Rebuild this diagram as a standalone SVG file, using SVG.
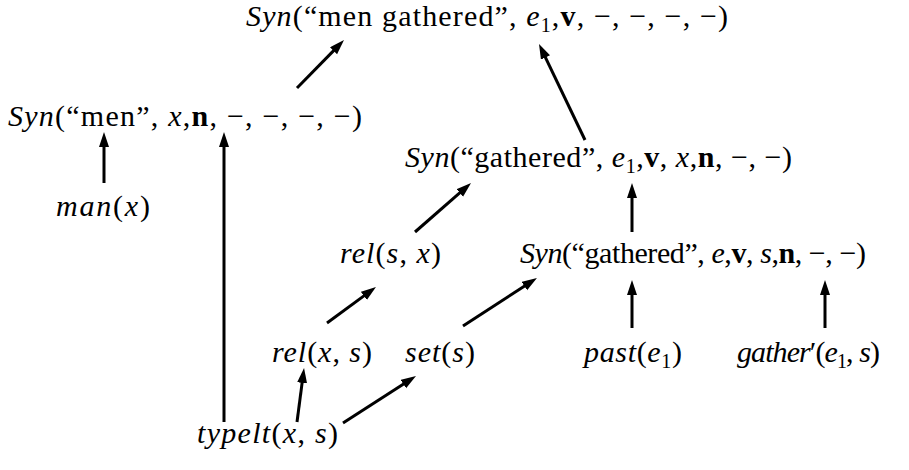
<svg xmlns="http://www.w3.org/2000/svg" width="909" height="470" viewBox="0 0 909 470">
<style>
text { font-family: 'Liberation Serif', 'DejaVu Serif', 'Times New Roman', serif; font-size: 30px; fill: #000; }
.i { font-style: italic; }
.b { font-weight: bold; }
.s { font-size: 20px; }
#connectors line { stroke: #000; stroke-width: 3; marker-end: url(#ah); }
</style>
<defs>
<marker id="ah" markerUnits="userSpaceOnUse" markerWidth="16" markerHeight="12" refX="3" refY="5" orient="auto">
<path d="M0,0 L15,5 L0,10 z" fill="#000"/>
</marker>
</defs>
<rect width="909" height="470" fill="#fff"/>

<g id="n-top"><text x="246" y="26" textLength="482" lengthAdjust="spacing"><tspan class="i">Syn</tspan>(“men gathered”, <tspan class="i">e</tspan><tspan class="s" dy="6">1</tspan><tspan dy="-6">,</tspan><tspan class="b">v</tspan>, −, −, −, −)</text></g>
<g id="n-men"><text x="8" y="126" textLength="354" lengthAdjust="spacing"><tspan class="i">Syn</tspan>(“men”, <tspan class="i">x</tspan>,<tspan class="b">n</tspan>, −, −, −, −)</text></g>
<g id="n-gathered1"><text x="405" y="167" textLength="387" lengthAdjust="spacing"><tspan class="i">Syn</tspan>(“gathered”, <tspan class="i">e</tspan><tspan class="s" dy="6">1</tspan><tspan dy="-6">,</tspan><tspan class="b">v</tspan>, <tspan class="i">x</tspan>,<tspan class="b">n</tspan>, −, −)</text></g>
<g id="n-man"><text x="56" y="216" textLength="94" lengthAdjust="spacing"><tspan class="i">man</tspan>(<tspan class="i">x</tspan>)</text></g>
<g id="n-relsx"><text x="340" y="263" textLength="101" lengthAdjust="spacing"><tspan class="i">rel</tspan>(<tspan class="i">s</tspan>, <tspan class="i">x</tspan>)</text></g>
<g id="n-gathered2"><text x="520" y="263" textLength="346" lengthAdjust="spacing"><tspan class="i">Syn</tspan>(“gathered”, <tspan class="i">e</tspan>,<tspan class="b">v</tspan>, <tspan class="i">s</tspan>,<tspan class="b">n</tspan>, −, −)</text></g>
<g id="n-relxs"><text x="272" y="362" textLength="100" lengthAdjust="spacing"><tspan class="i">rel</tspan>(<tspan class="i">x</tspan>, <tspan class="i">s</tspan>)</text></g>
<g id="n-set"><text x="405" y="362" textLength="70" lengthAdjust="spacing"><tspan class="i">set</tspan>(<tspan class="i">s</tspan>)</text></g>
<g id="n-past"><text x="584" y="362" textLength="98" lengthAdjust="spacing"><tspan class="i">past</tspan>(<tspan class="i">e</tspan><tspan class="s" dy="6">1</tspan><tspan dy="-6">)</tspan></text></g>
<g id="n-gather"><text x="737" y="362" textLength="143" lengthAdjust="spacing"><tspan class="i">gather</tspan>′(<tspan class="i">e</tspan><tspan class="s" dy="6">1</tspan><tspan dy="-6">, </tspan><tspan class="i">s</tspan>)</text></g>
<g id="n-typelt"><text x="197" y="443" textLength="141" lengthAdjust="spacing"><tspan class="i">typelt</tspan>(<tspan class="i">x</tspan>, <tspan class="i">s</tspan>)</text></g>

<g id="connectors">
<line x1="104" y1="183" x2="104" y2="144"/>
<line x1="224" y1="422" x2="224" y2="144"/>
<line x1="297" y1="422" x2="302.5" y2="379.9"/>
<line x1="343" y1="423" x2="405.9" y2="382.5"/>
<line x1="327" y1="323" x2="366.3" y2="294.1"/>
<line x1="463" y1="326" x2="526.9" y2="284.5"/>
<line x1="632" y1="328" x2="632" y2="292"/>
<line x1="825" y1="328" x2="825" y2="292"/>
<line x1="415" y1="232" x2="462" y2="190.9"/>
<line x1="632" y1="232" x2="632" y2="195"/>
<line x1="297" y1="88" x2="335.6" y2="48.6"/>
<line x1="585" y1="140" x2="544.2" y2="54.8"/>
</g>
</svg>
